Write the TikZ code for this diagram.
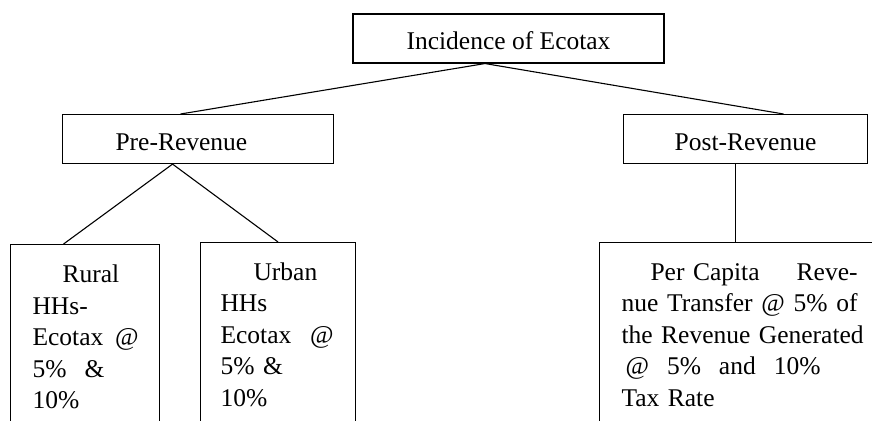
\documentclass[tikz,border=0pt]{standalone}
\usepackage{fontspec}
\setmainfont{Liberation Serif}
\usetikzlibrary{positioning}
\tikzset{
  box/.style={draw, line width=1.1pt, rectangle, inner xsep=0pt, inner ysep=0pt,
    font=\fontsize{25.5pt}{31.5pt}\selectfont},
  headbox/.style={box, minimum height=49pt, text height=22pt, text depth=0pt},
  leafbox/.style={box, anchor=north west, align=left, inner xsep=20pt},
  link/.style={line width=1.1pt}
}
\newcommand{\spreadline}[2]{\leavevmode\hbox to #1{#2}}
\newcommand{\gap}{\hskip 0.25em plus 1fil\relax}
\begin{document}
\begin{tikzpicture}[x=1pt,y=1pt]
\useasboundingbox (0,0) rectangle (872,-420);
% top
\node[headbox, minimum width=311pt] (top) at (508.5,-38.5) {Incidence of Ecotax};
% level 2
\node[headbox, anchor=north west, text width=271pt, align=left] (pre) at (62,-114) {\hspace*{53pt}Pre-Revenue};
\node[headbox, anchor=north west, minimum width=244pt] (post) at (623,-114) {Post-Revenue};
% leaves
\node[leafbox, inner xsep=22pt, text width=105pt] (rural) at (10,-244)
 {\rule{0pt}{38pt}\hspace*{30pt}Rural\\
  HHs-\\
  \spreadline{106pt}{Ecotax\gap @}\\
  \spreadline{72pt}{5\%\gap \&}\\
  10\%\rule[-60pt]{0pt}{60pt}};
\node[leafbox, text width=115pt] (urban) at (200,-242)
 {\rule{0pt}{37.5pt}\hspace*{33pt}Urban\\
  HHs\\
  \spreadline{113pt}{Ecotax\gap @}\\
  5\% \&\\
  10\%\rule[-60pt]{0pt}{60pt}};
\node[leafbox, inner xsep=22pt, text width=237pt] (revt) at (599,-242)
 {\rule{0pt}{37.5pt}\hspace*{29pt}\spreadline{207pt}{Per Capita\gap Reve-}\\
  \spreadline{236pt}{nue\gap Transfer\gap @\gap 5\%\gap of}\\
  \mbox{the Revenue Generated}\\
  \hspace*{4pt}\spreadline{195pt}{@\gap 5\%\gap and\gap 10\%}\\
  Tax Rate\rule[-60pt]{0pt}{60pt}};
% connectors
\draw[link] ([xshift=-17.5pt]pre.north) -- ([xshift=-23.5pt]top.south) -- ([xshift=38pt]post.north);
\draw[link] ([xshift=-21.5pt]rural.north) -- ([xshift=-25.5pt]pre.south) -- (urban.north);
\draw[link] ([xshift=-4.5pt]revt.north) -- ([xshift=-4.5pt]revt.north |- post.south);
\end{tikzpicture}
\end{document}
